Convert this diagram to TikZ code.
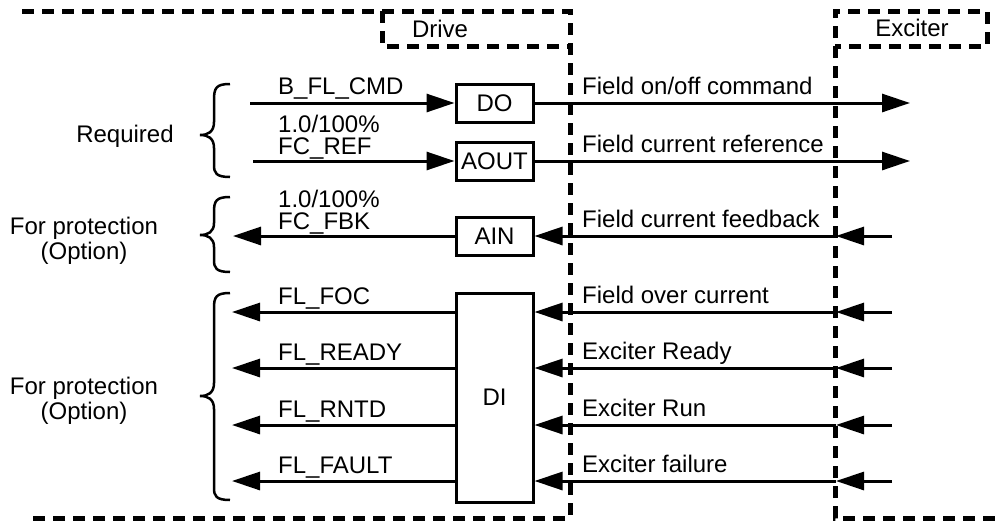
\documentclass[tikz,border=0pt]{standalone}
\usepackage{fontspec}
\setmainfont{Liberation Sans}
\usetikzlibrary{arrows.meta}
\begin{document}
\begin{tikzpicture}[x=1pt,y=-1pt,
  every node/.style={font=\fontsize{24}{25}\selectfont, inner sep=0pt},
  frame/.style={line width=5pt, dash pattern=on 12pt off 8pt},
  blk/.style={draw, line width=3pt, minimum width=77pt, anchor=center},
  arr/.style={line width=3pt, -{Triangle[length=28pt,width=18pt]}},
  brc/.style={line width=2.5pt},
  lbl/.style={anchor=base west},
  side/.style={align=center, font=\fontsize{24}{25}\selectfont}]
\useasboundingbox (0,0) rectangle (995,525);
% frames
\draw[frame] (22,11) -- (570,11) -- (570,518) -- (28,518);
\draw[frame] (382,11) -- (382,46) -- (570,46);
\draw[frame] (995,518) -- (835,518) -- (835,11) -- (987,11) -- (987,46) -- (835,46);
\node (drive) at (440,29) {Drive};
\node (exciter) at (912,28) {Exciter};
% blocks
\node[blk, minimum height=38pt] (do) at (494.5,103) {DO};
\node[blk, minimum height=38pt] (aout) at (494.5,161) {AOUT};
\node[blk, minimum height=38pt] (ain) at (494.5,236) {AIN};
\node[blk, minimum height=209pt] (di) at (494.5,397.5) {DI};
% left coordinates
\coordinate (cmdL) at (250,103);
\coordinate (refL) at (253,161);
\coordinate (fbkL) at (233,236);
\coordinate (focL) at (232,312);
\coordinate (rdyL) at (232,368);
\coordinate (rntL) at (232,425);
\coordinate (fltL) at (232,481);
% right coordinates
\coordinate (cmdR) at (910,103);
\coordinate (refR) at (910,161);
\foreach \n/\y in {fbk/236,foc/312,rdy/368,rnt/425,flt/481}{
  \coordinate (\n X) at (892,\y);
  \coordinate (\n M) at (836,\y);
}
% left arrows
\draw[arr] (cmdL) -- (do.west);
\draw[arr] (refL) -- (aout.west);
\draw[arr] (ain.west) -- (fbkL);
\draw[arr] (di.west |- focL) -- (focL);
\draw[arr] (di.west |- rdyL) -- (rdyL);
\draw[arr] (di.west |- rntL) -- (rntL);
\draw[arr] (di.west |- fltL) -- (fltL);
% right arrows
\draw[arr] (do.east) -- (cmdR);
\draw[arr] (aout.east) -- (refR);
\draw[arr] (fbkX) -- (fbkM);
\draw[arr] (fbkM) -- (ain.east);
\foreach \n in {foc,rdy,rnt,flt}{
  \draw[arr] (\n X) -- (\n M);
  \draw[arr] (\n M) -- (di.east |- \n M);
}
% left labels
\node[lbl] (l1) at (278,94) {B\_FL\_CMD};
\node[lbl] (l2) at (278,132) {1.0/100\%};
\node[lbl] (l3) at (278,154) {FC\_REF};
\node[lbl] (l4) at (278,207) {1.0/100\%};
\node[lbl] (l5) at (278,229) {FC\_FBK};
\node[lbl] (l6) at (278,304) {FL\_FOC};
\node[lbl] (l7) at (278,360) {FL\_READY};
\node[lbl] (l8) at (278,417) {FL\_RNTD};
\node[lbl] (l9) at (278,473) {FL\_FAULT};
% right labels
\node[lbl] (r1) at (582,94) {Field on/off command};
\node[lbl] (r2) at (582,152) {Field current reference};
\node[lbl] (r3) at (582,227) {Field current feedback};
\node[lbl] (r4) at (582,303) {Field over current};
\node[lbl] (r5) at (582,359) {Exciter Ready};
\node[lbl] (r6) at (582,416) {Exciter Run};
\node[lbl] (r7) at (582,472) {Exciter failure};
% braces
\draw[brc] (230,84) .. controls (216,84) and (214,88) .. (214,100) -- (214,122)
  .. controls (214,132) and (208,135) .. (200,135)
  .. controls (208,135) and (214,138) .. (214,148) -- (214,165)
  .. controls (214,173) and (216,177) .. (230,177);
\draw[brc] (230,197) .. controls (216,197) and (214,201) .. (214,212) -- (214,223)
  .. controls (214,232) and (208,235) .. (200,235)
  .. controls (208,235) and (214,238) .. (214,247) -- (214,260)
  .. controls (214,268) and (216,272) .. (230,272);
\draw[brc] (230,293) .. controls (216,293) and (214,297) .. (214,308) -- (214,383)
  .. controls (214,393) and (208,396) .. (200,396)
  .. controls (208,396) and (214,399) .. (214,409) -- (214,488)
  .. controls (214,496) and (216,500) .. (230,500);
% side texts
\node (req) at (125,136) {Required};
\node[side] (prot1) at (84,241) {For protection\\(Option)};
\node[side] (prot2) at (84,401) {For protection\\(Option)};
\end{tikzpicture}
\end{document}
